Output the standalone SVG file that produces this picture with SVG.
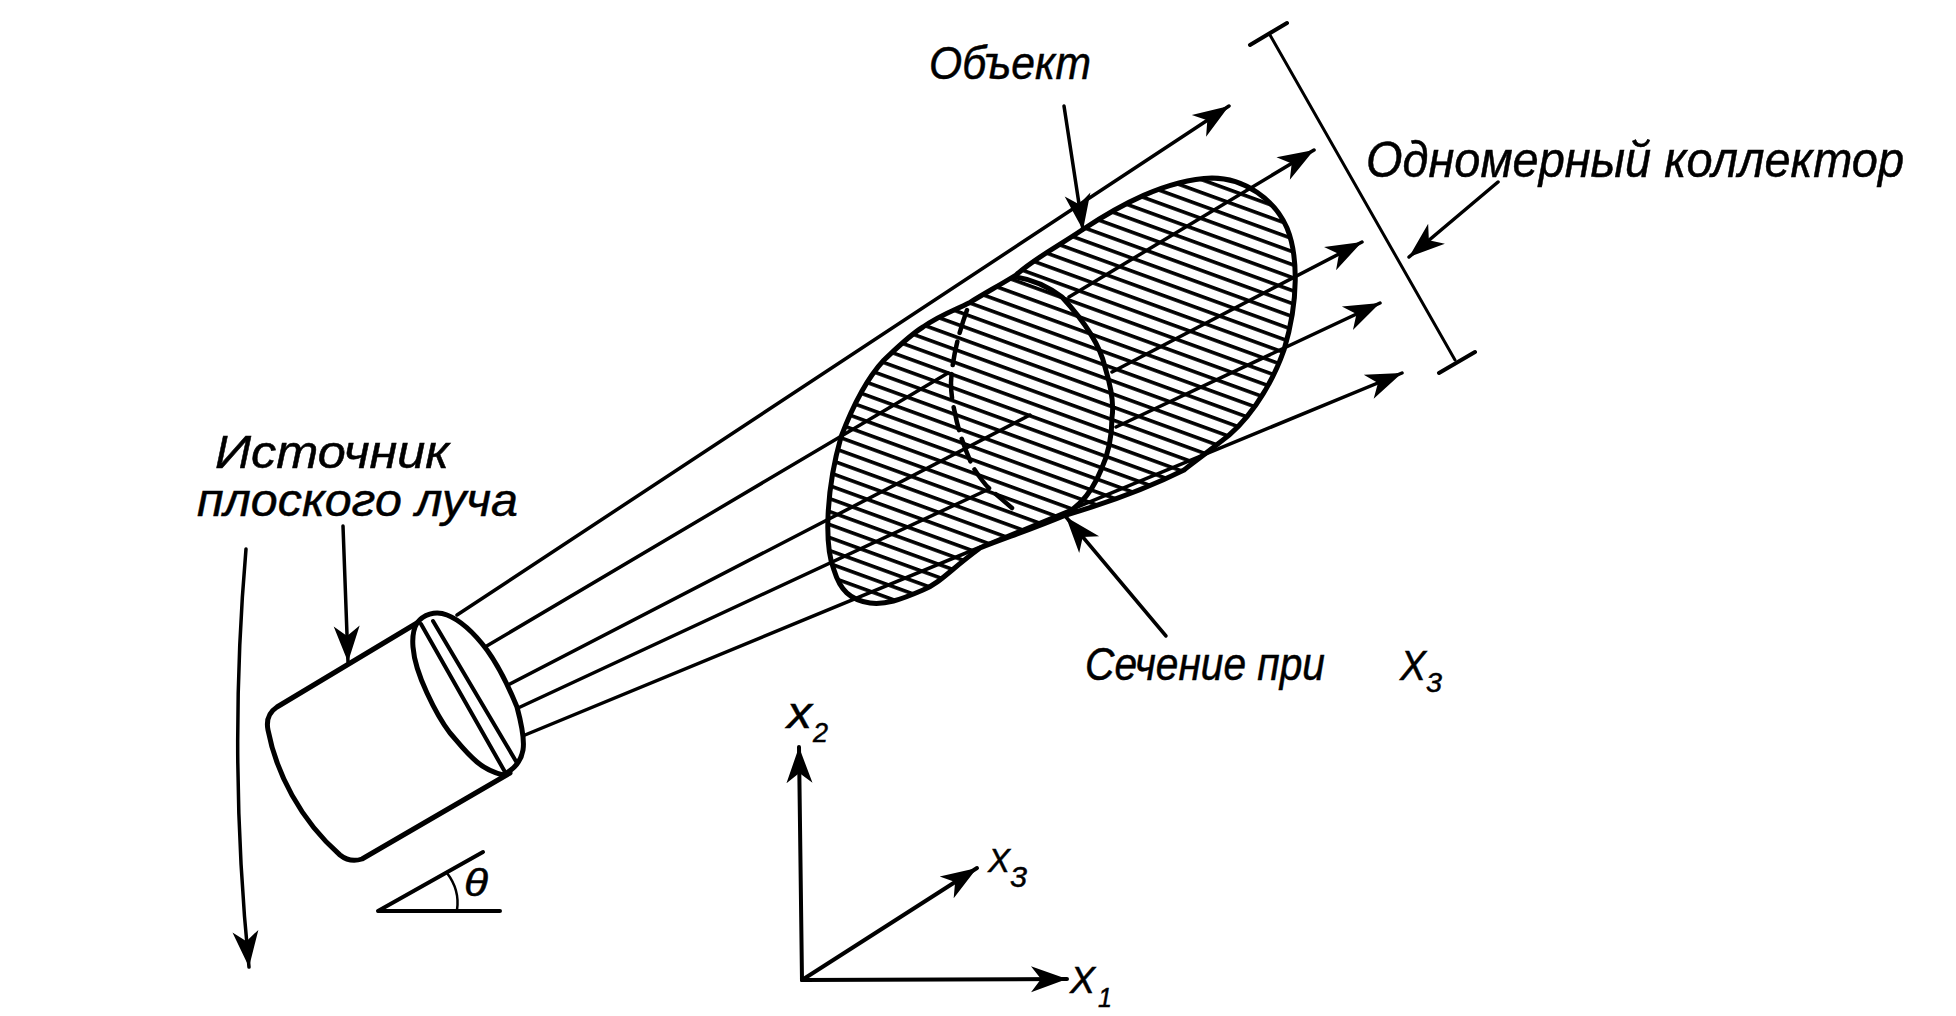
<svg xmlns="http://www.w3.org/2000/svg" width="1956" height="1016" viewBox="0 0 1956 1016">
<style>
.ln{fill:none;stroke:#000;stroke-linecap:round;stroke-linejoin:round}
.ray{stroke-width:3.5}
.hv{stroke-width:5}
.lb{font-family:"Liberation Sans","DejaVu Sans",sans-serif;font-style:italic;fill:#000;stroke:#000;stroke-width:.5}
</style>
<defs>
<marker id="ah" markerUnits="userSpaceOnUse" markerWidth="44" markerHeight="30" refX="40" refY="15" orient="auto" viewBox="0 0 44 30">
<path d="M40,15 L4,2 L14,15 L4,28 Z" fill="#000"/>
</marker>
<pattern id="hatch" patternUnits="userSpaceOnUse" width="24" height="12.2" patternTransform="rotate(20)">
<rect x="0" y="0" width="24" height="3.6" fill="#000"/>
</pattern>
</defs>
<rect width="1956" height="1016" fill="#fff"/>

<g id="connectors">
<path class="ln ray" d="M457,615 L1229,106" marker-end="url(#ah)"/>
<path class="ln ray" d="M485,647 L948,373 M1069,297 L1314,150" marker-end="url(#ah)"/>
<path class="ln ray" d="M508,685 L1030,415 M1112,372 L1362,242" marker-end="url(#ah)"/>
<path class="ln ray" d="M518,708 L987,490 M1116,427 L1380,303" marker-end="url(#ah)"/>
<path class="ln ray" d="M525,735 L1402,373" marker-end="url(#ah)"/>
<path class="ln ray" d="M1064,106 L1083,230" marker-end="url(#ah)"/>
<path class="ln ray" d="M1166,636 L1066,517" marker-end="url(#ah)"/>
<path class="ln ray" d="M343,526 L348,662" marker-end="url(#ah)"/>
<path class="ln ray" d="M246,549 Q228,757 249,967" marker-end="url(#ah)"/>
<path class="ln ray" d="M1498,182 L1409,257" marker-end="url(#ah)"/>
</g>

<g id="object">
<path d="M1082,230 C1120,205 1165,180 1212,178 C1245,178 1275,200 1287,228 C1298,255 1299,300 1284,350 C1270,390 1245,425 1219,443 C1200,458 1190,465 1184,470 C1140,492 1100,505 1066,515 C1030,530 1005,538 980,548 C950,570 940,583 923,590 C900,600 885,605 870,603 C850,600 840,590 834,570 C824,545 826,490 841,437 C855,400 870,375 884,360 C900,345 910,335 923,327 C940,315 955,310 969,303 C985,293 1000,285 1016,275 C1035,258 1060,245 1082,230 Z" fill="url(#hatch)" stroke="none"/>
<path class="ln" stroke-width="5" d="M1082,230 C1120,205 1165,180 1212,178 C1245,178 1275,200 1287,228 C1298,255 1299,300 1284,350 C1270,390 1245,425 1219,443 C1200,458 1190,465 1184,470 C1140,492 1100,505 1066,515 C1030,530 1005,538 980,548 C950,570 940,583 923,590 C900,600 885,605 870,603 C850,600 840,590 834,570 C824,545 826,490 841,437 C855,400 870,375 884,360 C900,345 910,335 923,327 C940,315 955,310 969,303 C985,293 1000,285 1016,275 C1035,258 1060,245 1082,230 Z"/>
</g>

<g id="section">
<path class="ln hv" d="M1016,277 C1035,280 1050,288 1062,297 C1085,322 1100,345 1105,367 C1112,390 1114,405 1112,417 C1112,440 1108,455 1101,470 C1095,485 1088,495 1080,503 L1066,515"/>
<path class="ln" stroke-width="4.5" stroke-dasharray="24 9" stroke-linecap="butt" d="M967,310 C958,335 952,360 951,383 C951,395 953,405 955,413 C958,430 965,450 973,467 C980,478 985,485 991,490 L1012,508"/>
</g>

<g id="source">
<path class="ln hv" d="M417,623 L277,707 Q265,715 268,730 C276,772 300,820 340,855 Q350,863 362,859 L510,773"/>
<path class="ln hv" d="M417,623 C423,615 435,610 447,615 C465,622 478,638 487,650 C500,668 510,690 517,707 C521,722 525,738 523,750 C521,762 513,770 503,775 C492,772 484,768 477,762 C465,752 458,742 450,733 C440,720 433,706 427,693 C420,678 414,660 413,647 C412,635 414,628 417,623 Z"/>
<path class="ln" stroke-width="4" d="M421,624 L505,772 M433,621 L517,763"/>
</g>

<g id="collector">
<path class="ln" stroke-width="3" d="M1270,35 L1455,360"/>
<path class="ln" stroke-width="4" d="M1250,45 L1287,23 M1439,373 L1475,352"/>
</g>

<g id="angle">
<path class="ln" stroke-width="4" d="M378,911 L483,852 M378,911 L500,911"/>
<path class="ln" stroke-width="2.5" d="M447,873 Q460,890 457,910"/>
<text class="lb" x="464" y="896" font-size="38" textLength="24" lengthAdjust="spacingAndGlyphs">θ</text>
</g>

<g id="axes">
<path class="ln" stroke-width="4" d="M802,980 L799,747" marker-end="url(#ah)"/>
<path class="ln" stroke-width="4" d="M802,980 L1067,979" marker-end="url(#ah)"/>
<path class="ln" stroke-width="4" d="M802,980 L977,868" marker-end="url(#ah)"/>
<text class="lb" x="787" y="728" font-size="44" textLength="25" lengthAdjust="spacingAndGlyphs">x</text>
<text class="lb" x="813" y="742" font-size="28" textLength="15" lengthAdjust="spacingAndGlyphs">2</text>
<text class="lb" x="988" y="872" font-size="34" textLength="22" lengthAdjust="spacingAndGlyphs">X</text>
<text class="lb" x="1010" y="887" font-size="30" textLength="17" lengthAdjust="spacingAndGlyphs">3</text>
<text class="lb" x="1070" y="993" font-size="36" textLength="25" lengthAdjust="spacingAndGlyphs">X</text>
<text class="lb" x="1098" y="1007" font-size="28" textLength="14" lengthAdjust="spacingAndGlyphs">1</text>
</g>

<g id="labels">
<text class="lb" x="929" y="79" font-size="46" textLength="162" lengthAdjust="spacingAndGlyphs">Объект</text>
<text class="lb" x="1366" y="177" font-size="50" textLength="538" lengthAdjust="spacingAndGlyphs">Одномерный коллектор</text>
<text class="lb" x="215" y="468" font-size="46" textLength="234" lengthAdjust="spacingAndGlyphs">Источник</text>
<text class="lb" x="197" y="516" font-size="46" textLength="321" lengthAdjust="spacingAndGlyphs">плоского луча</text>
<text class="lb" x="1085" y="680" font-size="46" textLength="240" lengthAdjust="spacingAndGlyphs">Сечение при</text>
<text class="lb" x="1400" y="680" font-size="42" textLength="26" lengthAdjust="spacingAndGlyphs">X</text>
<text class="lb" x="1426" y="692" font-size="28" textLength="16" lengthAdjust="spacingAndGlyphs">3</text>
</g>
</svg>
